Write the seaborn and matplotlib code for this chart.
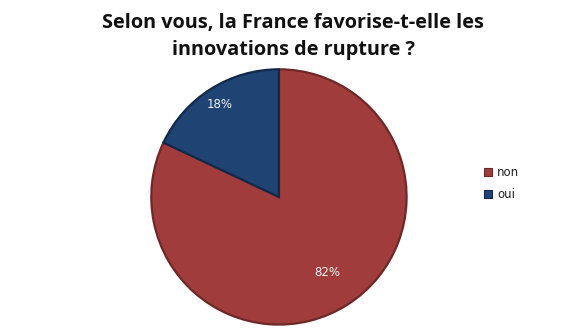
import numpy as np
import matplotlib
matplotlib.use("Agg")
import matplotlib.pyplot as plt
import seaborn as sns

# Survey answers
categories = ["non", "oui"]
shares = [82, 18]
label_texts = ["82%", "18%"]

sns.set_theme(style="white")
plt.rcParams["font.family"] = ["Open Sans", "DejaVu Sans"]

face_colors = ["#A03D3C", "#1F4373"]
edge_colors = ["#6E2828", "#13294A"]

fig = plt.figure(figsize=(5.86, 3.31), dpi=100)
fig.patch.set_facecolor("white")

fig.text(0.5, 0.93, "Selon vous, la France favorise-t-elle les",
         ha="center", va="center", fontsize=14.3, fontweight="bold", color="#111111")
fig.text(0.5, 0.85, "innovations de rupture ?",
         ha="center", va="center", fontsize=14.3, fontweight="bold", color="#111111")

ax = fig.add_axes([0.256, 0.015, 0.44, 0.78])
wedges, _ = ax.pie(shares, colors=face_colors, startangle=90, counterclock=False,
                   wedgeprops=dict(linewidth=1.6))
for w, ec in zip(wedges, edge_colors):
    w.set_edgecolor(ec)
ax.set_xlim(-1.01, 1.01)
ax.set_ylim(-1.01, 1.01)
ax.set_aspect("equal")

# Percentage labels placed along each wedge's bisector
label_radius = [0.70, 0.86]
for w, txt, r in zip(wedges, label_texts, label_radius):
    mid = np.deg2rad((w.theta1 + w.theta2) / 2)
    ax.text(r * np.cos(mid), r * np.sin(mid), txt, ha="center", va="center",
            color="#F2F2F2", fontsize=8.5, family="DejaVu Sans")

handles = [plt.Rectangle((0, 0), 1, 1, facecolor=fc, edgecolor=ec, linewidth=0.8)
           for fc, ec in zip(face_colors, edge_colors)]
fig.legend(handles, categories, loc="center left", bbox_to_anchor=(0.808, 0.445),
           frameon=False, handlelength=0.7, handleheight=0.7,
           handletextpad=0.4, labelspacing=0.8, labelcolor="#222222",
           prop=dict(family="DejaVu Sans", size=8.5))

fig.savefig("out.png", dpi=100, facecolor="white")
